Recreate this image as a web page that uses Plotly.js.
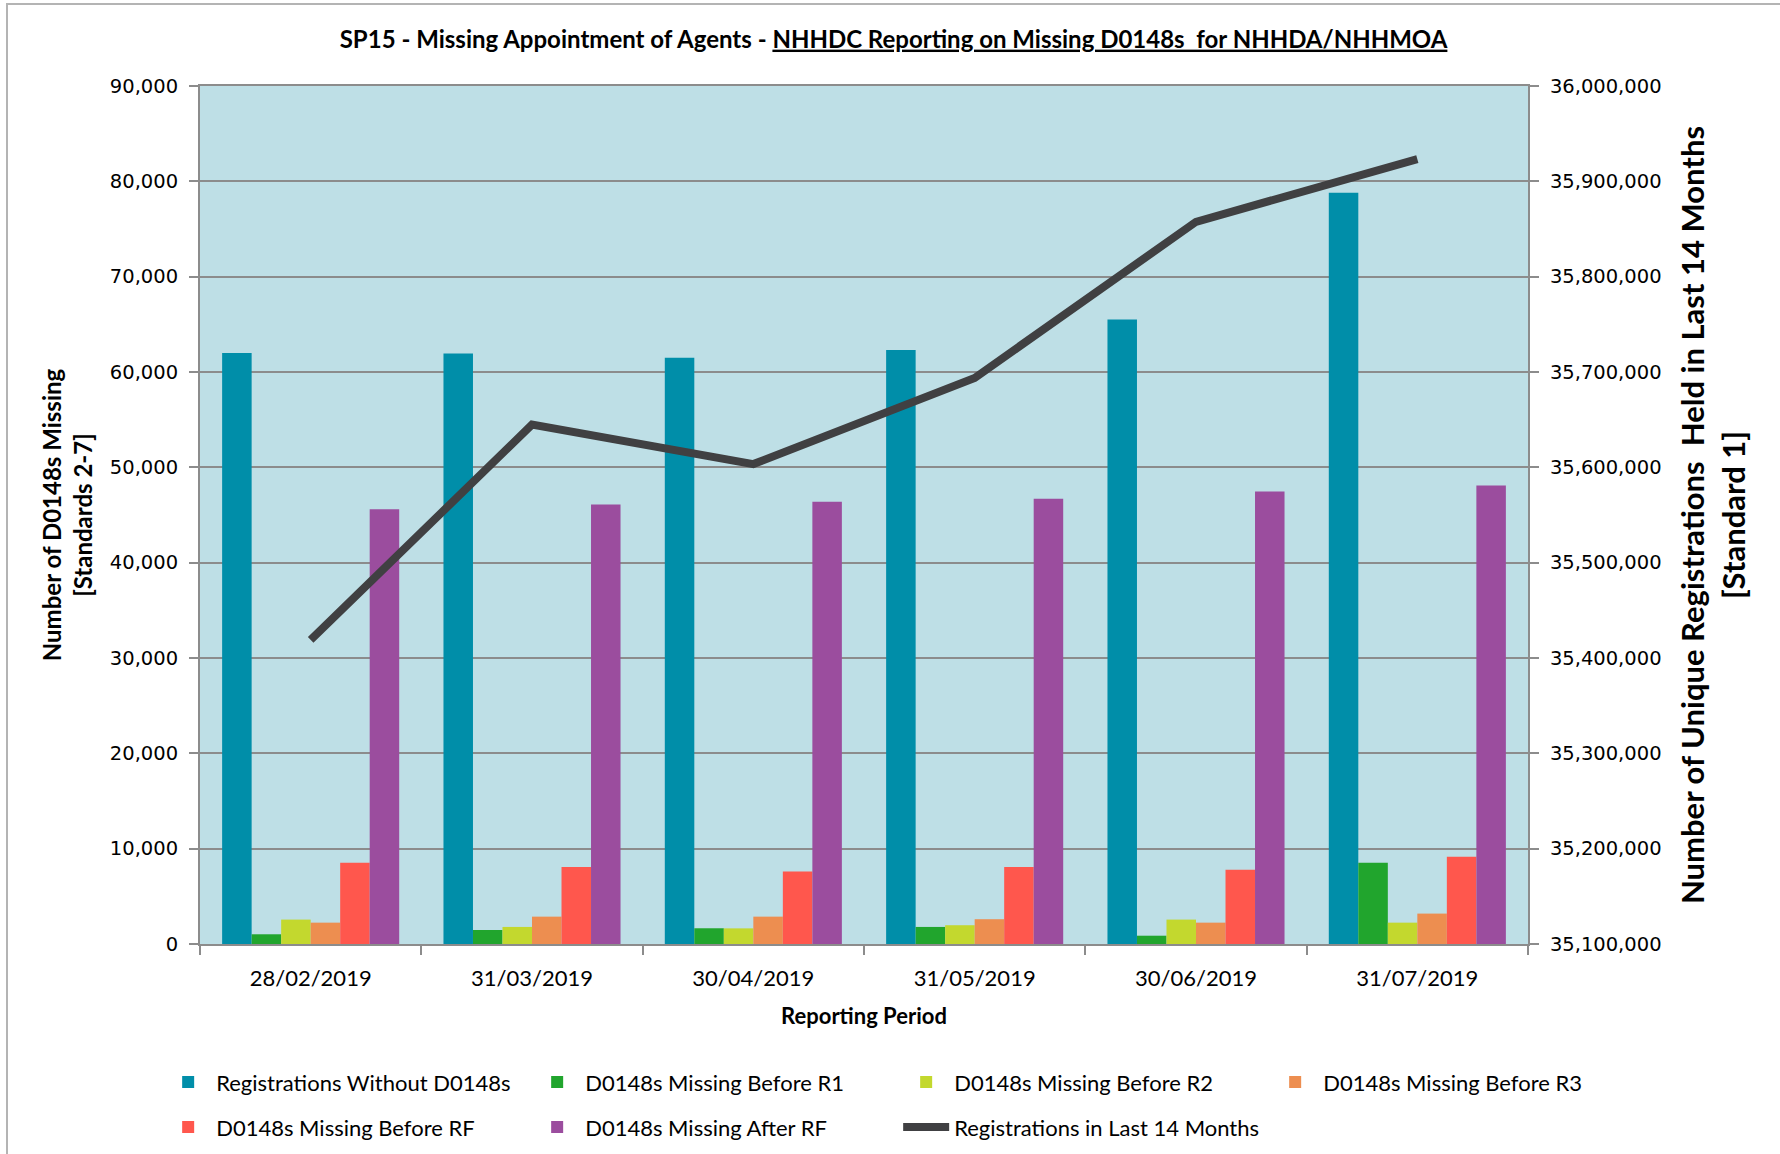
<!DOCTYPE html>
<html>
<head>
<meta charset="utf-8">
<script src="https://cdn.plot.ly/plotly-3.0.1.min.js"></script>
<style>
  html, body { margin: 0; padding: 0; background: #ffffff; }
  #chart { position: absolute; left: 0; top: 0; width: 1780px; height: 1154px; }
  #frame { position: absolute; left: 6px; top: 3px; width: 1800px; height: 1200px;
           border-left: 2px solid #b4b4b4; border-top: 2px solid #b4b4b4; pointer-events: none; }
</style>
</head>
<body>
<div id="chart"></div>
<div id="frame"></div>
<script>
// ---- data ----
var periods = ['28/02/2019', '31/03/2019', '30/04/2019', '31/05/2019', '30/06/2019', '31/07/2019'];
var regsWithoutD0148 = [62000, 61950, 61500, 62300, 65500, 78800];
var missingBeforeR1  = [1020, 1470, 1650, 1790, 870, 8530];
var missingBeforeR2  = [2560, 1790, 1640, 1970, 2560, 2240];
var missingBeforeR3  = [2240, 2870, 2870, 2600, 2240, 3190];
var missingBeforeRF  = [8530, 8070, 7610, 8070, 7790, 9160];
var missingAfterRF   = [45600, 46100, 46380, 46700, 47460, 48090];
var regsLast14Months = [35419000, 35644800, 35603400, 35693800, 35857500, 35923400];

var barNames = ['Registrations Without D0148s', 'D0148s Missing Before R1', 'D0148s Missing Before R2',
                'D0148s Missing Before R3', 'D0148s Missing Before RF', 'D0148s Missing After RF'];
var barSeries = [regsWithoutD0148, missingBeforeR1, missingBeforeR2, missingBeforeR3, missingBeforeRF, missingAfterRF];
var barColors = ['#008EA9', '#21A52D', '#C3D82E', '#ED8E50', '#FF574D', '#9B4D9E'];
var barLegends = ['legend', 'legend', 'legend', 'legend', 'legend2', 'legend2'];

var traces = [];
for (var i = 0; i < barSeries.length; i++) {
  traces.push({
    type: 'bar', name: barNames[i], x: periods, y: barSeries[i],
    marker: { color: barColors[i], line: { width: 0 } },
    yaxis: 'y', legend: barLegends[i], hoverinfo: 'x+y+name'
  });
}
traces.push({
  type: 'scatter', mode: 'lines', name: 'Registrations in Last 14 Months',
  x: periods, y: regsLast14Months, yaxis: 'y2', legend: 'legend2',
  line: { color: '#404042', width: 8 }
});

var tickFont = { family: 'DejaVu Sans, Verdana, sans-serif', size: 19.5, color: '#000000' };
var textFamily = 'Lato, Calibri, Carlito, sans-serif';

var legendBase = {
  orientation: 'h', xanchor: 'left', yanchor: 'middle',
  entrywidth: 308, entrywidthmode: 'pixels', itemwidth: 46, traceorder: 'normal',
  font: { family: textFamily, size: 22, color: '#000000' }, bgcolor: 'rgba(0,0,0,0)', borderwidth: 0
};

var layout = {
  width: 1780, height: 1154,
  paper_bgcolor: '#ffffff', plot_bgcolor: '#BEDFE6',
  margin: { l: 200, r: 252, t: 86, b: 210, autoexpand: false },
  barmode: 'group', bargap: 0.2, bargroupgap: 0,
  showlegend: true,
  title: {
    text: '<b>SP15 - Missing Appointment of Agents - <u>NHHDC Reporting on Missing D0148s  for NHHDA/NHHMOA</u></b>',
    font: { family: textFamily, size: 24, color: '#000000' },
    x: 0.502, xanchor: 'center', y: 0.966, yanchor: 'middle'
  },
  xaxis: {
    type: 'category', tickson: 'boundaries', ticks: 'outside', ticklen: 9, tickwidth: 1.5,
    tickcolor: '#8c8c8c', showline: true, linecolor: '#8c8c8c', linewidth: 2, mirror: true,
    showgrid: false, ticklabelstandoff: 14,
    tickfont: { family: textFamily, size: 22, color: '#000000' },
    title: { text: '<b>Reporting Period</b>', font: { family: textFamily, size: 22, color: '#000000' }, standoff: 18 },
    automargin: false
  },
  yaxis: {
    range: [0, 90000], dtick: 10000, tick0: 0, tickformat: ',d',
    ticks: 'outside', ticklen: 9, tickwidth: 1.5, tickcolor: '#8c8c8c',
    showline: true, linecolor: '#8c8c8c', linewidth: 2, ticklabelstandoff: 7,
    showgrid: true, gridcolor: '#8c8c8c', gridwidth: 1.8, zeroline: false,
    tickfont: tickFont, automargin: false,
    title: { text: '<b>Number of D0148s Missing<br>[Standards 2-7]</b>', font: { family: textFamily, size: 24, color: '#000000' }, standoff: 10 }
  },
  yaxis2: {
    overlaying: 'y', side: 'right',
    range: [35100000, 36000000], dtick: 100000, tick0: 35100000, tickformat: ',d',
    ticks: 'outside', ticklen: 9, tickwidth: 1.5, tickcolor: '#8c8c8c',
    showline: true, linecolor: '#8c8c8c', linewidth: 2, ticklabelstandoff: 7,
    showgrid: false, zeroline: false, tickfont: tickFont, automargin: false,
    title: { text: '<b>Number of Unique Registrations  Held in Last 14 Months<br>[Standard 1]</b>', font: { family: textFamily, size: 31, color: '#000000' }, standoff: 22 }
  },
  legend: Object.assign({}, legendBase, { x: -0.030, y: -0.161 }),
  legend2: Object.assign({}, legendBase, { x: -0.030, y: -0.2135 })
};

Plotly.newPlot('chart', traces, layout, { displayModeBar: false, responsive: false });
</script>
</body>
</html>
